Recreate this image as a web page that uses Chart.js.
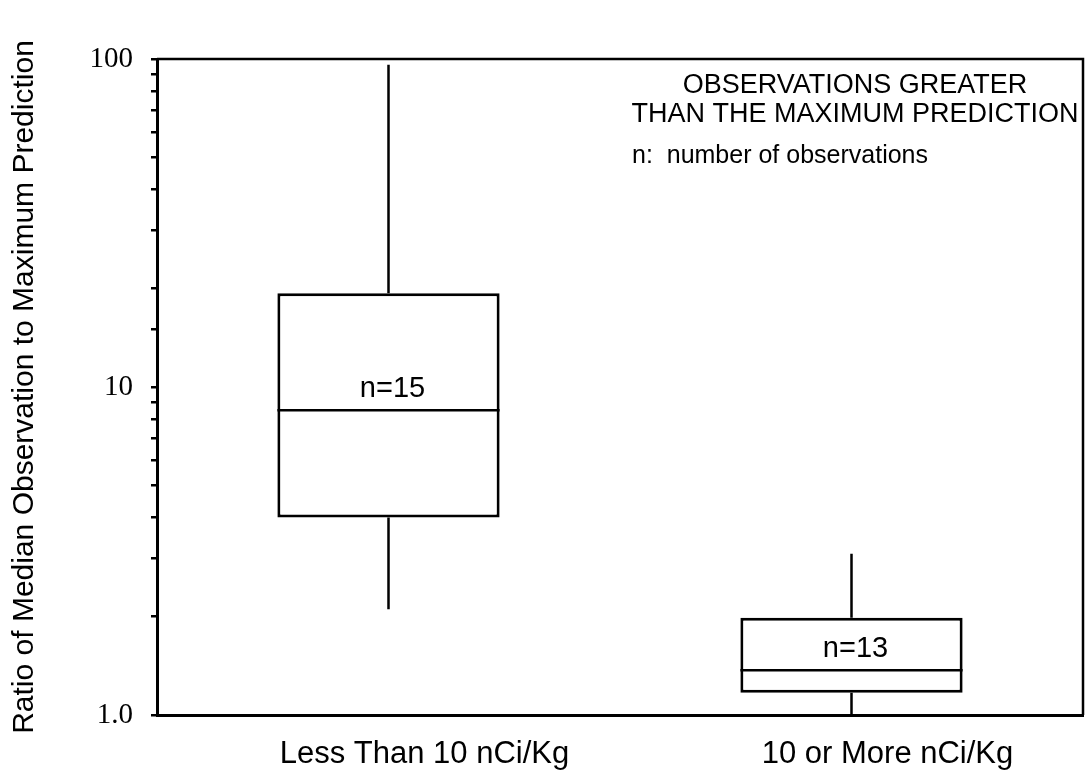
<!DOCTYPE html>
<html>
<head>
<meta charset="utf-8">
<title>Observations Greater Than the Maximum Prediction</title>
<script src="https://cdn.jsdelivr.net/npm/chart.js@4/dist/chart.umd.min.js"></script>
<style>
  html, body { margin: 0; padding: 0; background: #fff; }
  #wrap { width: 1088px; height: 783px; }
</style>
</head>
<body>
<div id="wrap"><canvas id="c" width="1088" height="783"></canvas></div>
<script>
// Concentration groups
const categories = ['Less Than 10 nCi/Kg', '10 or More nCi/Kg'];

// Box-plot statistics: ratio of median observation to maximum prediction
const lowerWhisker = [2.1, 1.0];
const lowerQuartile = [4.0, 1.17];
const medians = [8.5, 1.37];
const upperQuartile = [19.3, 1.98];
const upperWhisker = [96, 3.1];
const observationCounts = [15, 13];

// Labelled decades on the log axis
const tickLabels = { 1: '1.0', 10: '10', 100: '100' };

const SANS = '"Liberation Sans", Arial, Helvetica, sans-serif';
const SERIF = '"Liberation Serif", "Times New Roman", Times, serif';

// Whiskers, medians, sample sizes, frame and legend note
const boxExtras = {
  id: 'boxExtras',
  afterDatasetsDraw(chart) {
    const { ctx, chartArea, scales } = chart;
    const y = scales.y;
    const meta = chart.getDatasetMeta(0);
    ctx.save();
    ctx.strokeStyle = '#000';
    ctx.fillStyle = '#000';
    ctx.lineWidth = 2.5;
    meta.data.forEach((bar, i) => {
      const half = bar.width / 2;
      const x = bar.x;
      const yMin = y.getPixelForValue(lowerWhisker[i]);
      const yQ1 = y.getPixelForValue(lowerQuartile[i]);
      const yMed = y.getPixelForValue(medians[i]);
      const yQ3 = y.getPixelForValue(upperQuartile[i]);
      const yMax = y.getPixelForValue(upperWhisker[i]);
      ctx.beginPath();
      ctx.moveTo(x, yQ3); ctx.lineTo(x, yMax);
      ctx.moveTo(x, yQ1); ctx.lineTo(x, yMin);
      ctx.moveTo(x - half, yMed); ctx.lineTo(x + half, yMed);
      ctx.stroke();
      ctx.font = '29px ' + SANS;
      ctx.textAlign = 'center';
      ctx.textBaseline = 'alphabetic';
      ctx.fillText('n=' + observationCounts[i], x + 4, yMed - 13);
    });

    // top and right edges of the frame
    ctx.lineWidth = 2.5;
    ctx.beginPath();
    ctx.moveTo(chartArea.left, chartArea.top);
    ctx.lineTo(chartArea.right, chartArea.top);
    ctx.lineTo(chartArea.right, chartArea.bottom);
    ctx.stroke();

    // note in the upper right corner
    ctx.font = '27px ' + SANS;
    ctx.textAlign = 'center';
    ctx.fillText('OBSERVATIONS GREATER', chartArea.right - 228, chartArea.top + 34);
    ctx.fillText('THAN THE MAXIMUM PREDICTION', chartArea.right - 228, chartArea.top + 63);
    ctx.font = '25px ' + SANS;
    ctx.textAlign = 'left';
    ctx.fillText('n:  number of observations', chartArea.right - 451, chartArea.top + 104);
    ctx.restore();
  }
};

new Chart(document.getElementById('c'), {
  type: 'bar',
  data: {
    labels: categories,
    datasets: [{
      data: lowerQuartile.map((q1, i) => [q1, upperQuartile[i]]),
      backgroundColor: '#fff',
      borderColor: '#000',
      borderWidth: 3,
      borderSkipped: false,
      categoryPercentage: 1,
      barPercentage: 0.48
    }]
  },
  options: {
    responsive: false,
    animation: false,
    layout: { padding: { top: 59, right: 5, left: 0, bottom: 0 } },
    plugins: {
      legend: { display: false },
      tooltip: { enabled: false }
    },
    scales: {
      x: {
        type: 'category',
        grid: { display: false, drawTicks: false },
        border: { display: true, color: '#000', width: 3 },
        ticks: {
          color: '#000',
          font: { family: SANS, size: 31 },
          padding: 21,
          labelOffset: 36,
          maxRotation: 0,
          autoSkip: false
        },
        afterFit(scale) { scale.height = 68; }
      },
      y: {
        type: 'logarithmic',
        min: 1,
        max: 100,
        border: { display: true, color: '#000', width: 3 },
        grid: {
          drawOnChartArea: false,
          drawTicks: true,
          tickLength: 6,
          color: '#000',
          lineWidth: 2.5
        },
        ticks: {
          color: '#000',
          font: { family: SERIF, size: 29 },
          padding: 18,
          autoSkip: false,
          callback(value) { return tickLabels[value] || ''; }
        },
        title: {
          display: true,
          text: 'Ratio of Median Observation to Maximum Prediction',
          color: '#000',
          font: { family: SANS, size: 30 },
          padding: { top: 7, bottom: 0 }
        },
        afterFit(scale) { scale.width = 157; }
      }
    }
  },
  plugins: [boxExtras]
});
</script>
</body>
</html>
